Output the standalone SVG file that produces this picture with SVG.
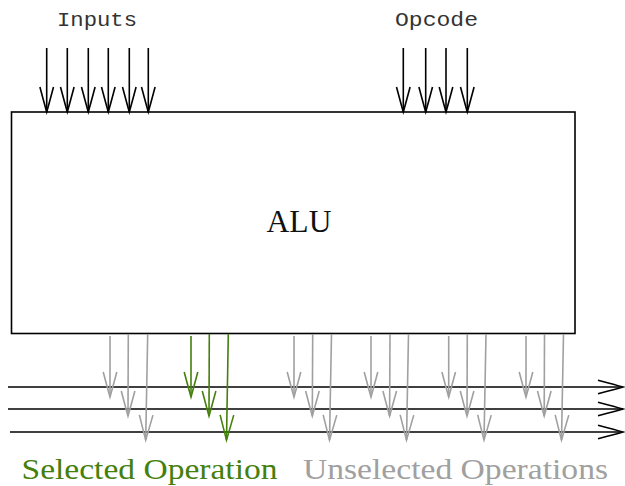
<svg xmlns="http://www.w3.org/2000/svg" width="625" height="486" viewBox="0 0 625 486">
<style>
.blk{stroke:#000;stroke-width:1.6;fill:none}
.gry{stroke:#a0a0a0;stroke-width:1.6;fill:none}
.grn{stroke:#457f0c;stroke-width:1.6;fill:none}
.mono{font-family:"Liberation Mono","Courier New",monospace;font-size:20px;fill:#333}
.serif{font-family:"Liberation Serif","Times New Roman",serif;font-size:32px}
.lbl{font-size:30px}
</style>
<defs>
<marker id="mb" markerUnits="userSpaceOnUse" markerWidth="40" markerHeight="20" viewBox="-30 -10 40 20" refX="0" refY="0" orient="auto" overflow="visible"><path d="M-25,-6.8 Q-7,-2 0,0 Q-7,2 -25,6.8" fill="none" stroke="#000" stroke-width="1.6"/></marker>
<marker id="mg" markerUnits="userSpaceOnUse" markerWidth="40" markerHeight="20" viewBox="-30 -10 40 20" refX="0" refY="0" orient="auto" overflow="visible"><path d="M-25,-6.8 Q-7,-2 0,0 Q-7,2 -25,6.8" fill="none" stroke="#a0a0a0" stroke-width="1.6"/></marker>
<marker id="mn" markerUnits="userSpaceOnUse" markerWidth="40" markerHeight="20" viewBox="-30 -10 40 20" refX="0" refY="0" orient="auto" overflow="visible"><path d="M-25,-6.8 Q-7,-2 0,0 Q-7,2 -25,6.8" fill="none" stroke="#457f0c" stroke-width="1.6"/></marker>
</defs>
<rect width="625" height="486" fill="#fff"/>
<g id="alu">
<rect x="11.5" y="112" width="563.5" height="221.5" class="blk"/>
<text x="299" y="232" class="serif" text-anchor="middle" textLength="65" lengthAdjust="spacingAndGlyphs" fill="#111">ALU</text>
</g>
<g id="inputs-label"><text x="97" y="26" class="mono" text-anchor="middle" textLength="80" lengthAdjust="spacingAndGlyphs">Inputs</text></g>
<g id="opcode-label"><text x="436.5" y="26" class="mono" text-anchor="middle" textLength="83" lengthAdjust="spacingAndGlyphs">Opcode</text></g>
<g id="selected-label"><text x="21.5" y="479" class="serif lbl" fill="#457f0c" textLength="256" lengthAdjust="spacingAndGlyphs">Selected Operation</text></g>
<g id="unselected-label"><text x="303" y="479" class="serif lbl" fill="#a0a0a0" textLength="305" lengthAdjust="spacingAndGlyphs">Unselected Operations</text></g>
<g id="connectors">
<g class="blk" marker-end="url(#mb)">
<path d="M46.7,48V112"/><path d="M67.3,48V112"/><path d="M88.3,48V112"/><path d="M108.3,48V112"/><path d="M129.3,48V112"/><path d="M148.3,48V112"/>
<path d="M403.3,48V112"/><path d="M425.7,48V112"/><path d="M446,48V112"/><path d="M467.3,48V112"/>
<path d="M8,387H623"/><path d="M8,409H623"/><path d="M10,432H623"/>
</g>
<g class="gry" marker-end="url(#mg)">
<path d="M110,336V397"/><path d="M128.3,334L128,416"/><path d="M147.7,334L145.7,440"/>
<path d="M294,336V397"/><path d="M312.7,334L312.3,416"/><path d="M331.5,334L329.5,440"/>
<path d="M371,336V397"/><path d="M390,334L389.6,416"/><path d="M408.5,334L406.5,440"/>
<path d="M448.7,336V397"/><path d="M467.3,334L467,416"/><path d="M486,334L484,440"/>
<path d="M526,336V397"/><path d="M544.5,334L544.2,416"/><path d="M563.5,334L561.5,440"/>
</g>
<g class="grn" marker-end="url(#mn)">
<path d="M191,336V397"/><path d="M209.3,334L209,416"/><path d="M228.3,334L226.5,440"/>
</g>
</g>
</svg>
